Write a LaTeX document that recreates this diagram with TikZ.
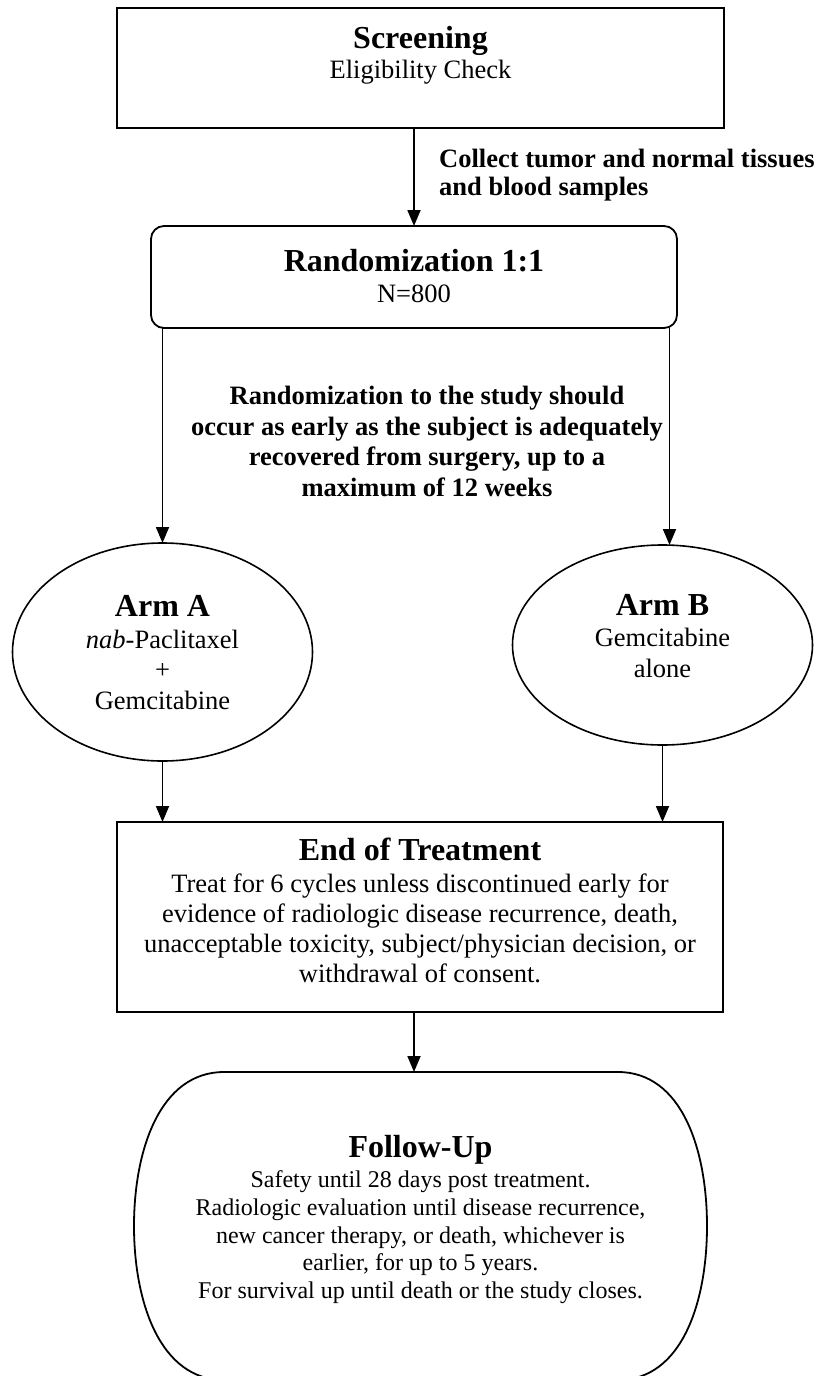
\documentclass[tikz,border=0pt]{standalone}
\usepackage{fontspec}
\setmainfont{Liberation Serif}
\usetikzlibrary{arrows.meta,shapes.geometric}
\begin{document}
\begin{tikzpicture}[x=1pt,y=-1pt,
  box/.style={draw, line width=2pt, inner sep=0pt, outer sep=0pt},
  oval/.style={draw, ellipse, line width=1.6pt, inner sep=0pt, outer sep=0pt},
  arr/.style={line width=1.8pt, -{Triangle[length=16pt,width=13pt]}},
  ttl/.style={font=\fontsize{32}{36}\selectfont\bfseries, anchor=base, inner sep=0pt},
  bod/.style={font=\fontsize{26.5}{30}\selectfont, anchor=base, inner sep=0pt},
  fbod/.style={font=\fontsize{24}{28}\selectfont, anchor=base, inner sep=0pt},
  lbl/.style={font=\fontsize{26.5}{30}\selectfont\bfseries, anchor=base, inner sep=0pt},
  lblw/.style={lbl, anchor=base west}]
\useasboundingbox (0,0) rectangle (818,1376);

% Screening
\node[box, minimum width=607pt, minimum height=120pt] (scr) at (420.5,68) {};
\node[ttl] (scrT) at (420.5,48) {Screening};
\node[bod] (scrB) at (420.5,78) {Eligibility Check};

% Randomization
\node[box, rounded corners=13pt, line width=1.8pt, minimum width=526pt, minimum height=102pt] (rand) at (414,277) {};
\node[ttl] (randT) at (414,271) {Randomization 1:1};
\node[bod] (randB) at (414,302) {N=800};

\draw[arr] (scr.south -| rand.north) -- (rand.north);
\node[lblw] (col1) at (439,167) {Collect tumor and normal tissues};
\node[lblw] (col2) at (439,195) {and blood samples};

% Arms
\node[oval, minimum width=300pt, minimum height=218pt] (armA) at (162.5,652) {};
\node[oval, minimum width=300pt, minimum height=200pt] (armB) at (662.5,645) {};
\node[ttl] (aT) at (162.5,616) {Arm A};
\node[bod] (a1) at (162.5,648) {\textit{nab}-Paclitaxel};
\node[bod] (a2) at (162.5,678) {+};
\node[bod] (a3) at (162.5,709) {Gemcitabine};
\node[ttl] (bT) at (662.5,615) {Arm B};
\node[bod] (b1) at (662.5,646) {Gemcitabine};
\node[bod] (b2) at (662.5,677) {alone};

\draw[arr] (rand.south -| armA.north) -- (armA.north);
\draw[arr] ([xshift=7pt]rand.south -| armB.north) -- ([xshift=7pt]armB.north);

\node[lbl] (r1) at (427,404) {Randomization to the study should};
\node[lbl] (r2) at (427,435) {occur as early as the subject is adequately};
\node[lbl] (r3) at (427,465) {recovered from surgery, up to a};
\node[lbl] (r4) at (427,496) {maximum of 12 weeks};

% End of treatment
\node[box, minimum width=606pt, minimum height=190pt] (eot) at (420,917) {};
\node[ttl] (eT) at (420,860) {End of Treatment};
\node[bod] (e1) at (420,892) {Treat for 6 cycles unless discontinued early for};
\node[bod] (e2) at (420,922) {evidence of radiologic disease recurrence, death,};
\node[bod] (e3) at (420,952) {unacceptable toxicity, subject/physician decision, or};
\node[bod] (e4) at (420,982) {withdrawal of consent.};

\draw[arr] (armA.south) -- (armA.south |- eot.north);
\draw[arr] (armB.south) -- (armB.south |- eot.north);

% Follow-up
\coordinate (fu) at (414,1072);
\draw[line width=1.8pt] (224,1072) -- (618,1072)
  .. controls (682,1072) and (707,1150) .. (707,1226)
  .. controls (707,1302) and (682,1380) .. (618,1380)
  -- (224,1380)
  .. controls (160,1380) and (134,1302) .. (134,1226)
  .. controls (134,1150) and (160,1072) .. (224,1072) -- cycle;
\draw[arr] (eot.south -| fu) -- (fu);
\node[ttl] (fT) at (420.5,1157) {Follow-Up};
\node[fbod] (f1) at (420.5,1187) {Safety until 28 days post treatment.};
\node[fbod] (f2) at (420.5,1215) {Radiologic evaluation until disease recurrence,};
\node[fbod] (f3) at (420.5,1243) {new cancer therapy, or death, whichever is};
\node[fbod] (f4) at (420.5,1270) {earlier, for up to 5 years.};
\node[fbod] (f5) at (420.5,1298) {For survival up until death or the study closes.};
\end{tikzpicture}
\end{document}
